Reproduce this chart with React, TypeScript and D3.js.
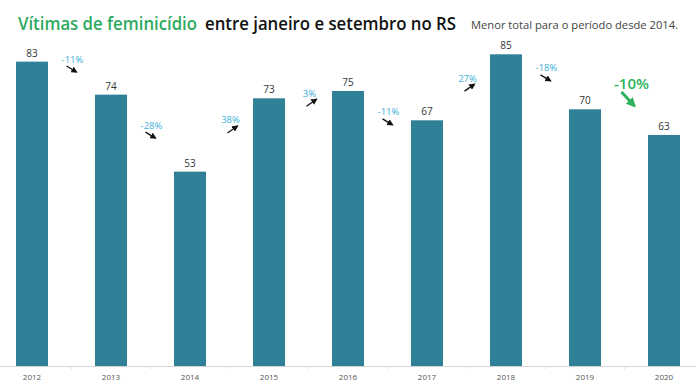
import React from "react";
import * as d3 from "d3";

const years = ["2012", "2013", "2014", "2015", "2016", "2017", "2018", "2019", "2020"];
const victims = [83, 74, 53, 73, 75, 67, 85, 70, 63];
const changeLabels = ["-11%", "-28%", "38%", "3%", "-11%", "27%", "-18%", "-10%"];
// vertical anchor of each change annotation, in data units
const changeLevels = [83.7, 65.7, 67.1, 74.4, 69.3, 78.5, 81.3, 76.9];
const titleGreen = "Vítimas de feminicídio";
const titleBlack = "entre janeiro e setembro no RS";
const subtitle = "Menor total para o período desde 2014.";

const W = 696;
const H = 385;
const BASE = 366;

export default function App() {
  const x = d3
    .scaleBand<string>()
    .domain(years)
    .range([-7.5, 703.5])
    .paddingInner(0.595)
    .paddingOuter(0.2975);
  const y = d3.scaleLinear().domain([0, 85]).range([BASE, BASE - 311.7]);
  const bw = x.bandwidth();
  const step = x.step();
  const font = "'Open Sans', 'Noto Sans', sans-serif";

  return (
    <svg
      width={W}
      height={H}
      style={{ position: "absolute", left: 0, top: 0, background: "#fff" }}
      fontFamily={font}
    >
      <defs>
        <marker id="ah" viewBox="0 0 10 10" refX="8" refY="5" markerWidth="5" markerHeight="5" orient="auto">
          <path d="M0,0 L10,5 L0,10 z" fill="#111" />
        </marker>
        <marker id="ahg" viewBox="0 0 10 10" refX="8" refY="5" markerWidth="3.2" markerHeight="3.2" orient="auto">
          <path d="M0,0 L10,5 L0,10 z" fill="#2db35b" />
        </marker>
      </defs>
      <rect width={W} height={H} fill="#fff" />
      {/* title */}
      <text x={18} y={30} fontSize={18} fontWeight={600} fill="#2eaa5f" textLength={179} lengthAdjust="spacingAndGlyphs">
        {titleGreen}
      </text>
      <text x={205} y={30} fontSize={18} fontWeight={600} fill="#111" textLength={251} lengthAdjust="spacingAndGlyphs">
        {titleBlack}
      </text>
      <text x={471} y={29} fontSize={11} fill="#444" textLength={207} lengthAdjust="spacingAndGlyphs">
        {subtitle}
      </text>

      {/* axis */}
      <line x1={0} x2={W} y1={BASE + 0.5} y2={BASE + 0.5} stroke="#d4d4d4" strokeWidth={1} />
      {years.slice(1).map((yr) => {
        const tx = (x(yr) as number) + bw / 2 - step / 2;
        return <line key={"t" + yr} x1={tx} x2={tx} y1={BASE} y2={BASE + 3} stroke="#dddddd" />;
      })}
      {years.map((yr) => (
        <text
          key={"l" + yr}
          x={(x(yr) as number) + bw / 2}
          y={380}
          textAnchor="middle"
          fontSize={8}
          fill="#555"
        >
          {yr}
        </text>
      ))}

      {/* bars */}
      {years.map((yr, i) => (
        <g key={"b" + yr}>
          <rect x={x(yr)} y={y(victims[i])} width={bw} height={BASE - y(victims[i])} fill="#2f8198" />
          <text
            x={(x(yr) as number) + bw / 2}
            y={y(victims[i]) - 5}
            textAnchor="middle"
            fontSize={10}
            fill="#333"
          >
            {victims[i]}
          </text>
        </g>
      ))}

      {/* change annotations */}
      {changeLabels.map((lab, i) => {
        const cx = (x(years[i]) as number) + bw / 2 + step / 2 + 1;
        const cy = y(changeLevels[i]);
        const up = victims[i + 1] > victims[i];
        const last = i === changeLabels.length - 1;
        if (last) {
          return (
            <g key={"c" + i}>
              <text x={cx + 6} y={cy + 5} textAnchor="middle" fontSize={15} fontWeight={600} fill="#2db35b">
                {lab}
              </text>
              <line x1={cx - 4} y1={cy + 8} x2={cx + 9} y2={cy + 22} stroke="#2db35b" strokeWidth={3} markerEnd="url(#ahg)" />
            </g>
          );
        }
        return (
          <g key={"c" + i}>
            <text x={cx} y={cy + 3.5} textAnchor="middle" fontSize={9.5} fill="#3cb0d8">
              {lab}
            </text>
            {up ? (
              <line x1={cx - 3} y1={cy + 13} x2={cx + 7} y2={cy + 6} stroke="#111" strokeWidth={1.3} markerEnd="url(#ah)" />
            ) : (
              <line x1={cx - 6} y1={cy + 7} x2={cx + 4} y2={cy + 13} stroke="#111" strokeWidth={1.3} markerEnd="url(#ah)" />
            )}
          </g>
        );
      })}
    </svg>
  );
}
